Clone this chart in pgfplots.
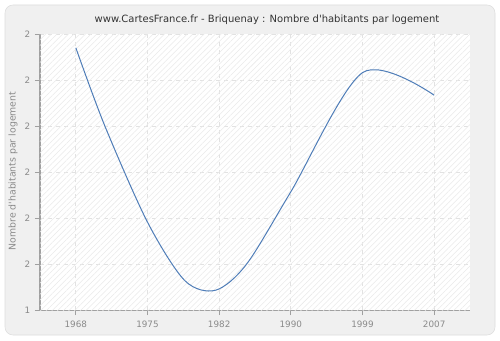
\documentclass[border=0pt]{standalone}
\usepackage{fontspec}
\setmainfont{DejaVu Sans}
\usepackage{pgfplots}
\pgfplotsset{compat=1.18}
\usetikzlibrary{patterns.meta}
\definecolor{linec}{HTML}{4F7DB8}
\definecolor{bgc}{HTML}{F0F0F0}
\definecolor{borderc}{HTML}{DDDDDD}
\definecolor{titlec}{HTML}{333333}
\definecolor{tickc}{HTML}{8A8A8A}
\definecolor{axisc}{HTML}{A0A0A0}
\definecolor{gridc}{HTML}{E2E2E2}
\definecolor{hatchc}{HTML}{EAEAEA}
\begin{document}
\begin{tikzpicture}[x=0.75pt,y=0.75pt]
\fill[white] (0,0) rectangle (500,340);
\draw[fill=bgc, draw=borderc, rounded corners=6pt] (5,5) rectangle (495,335);
\node[font=\fontsize{7.5}{9}\selectfont, text=titlec] at (267,320) {www.CartesFrance.fr - Briquenay : Nombre d\textquotesingle habitants par logement};
\node[font=\fontsize{7}{8}\selectfont, text=tickc, rotate=90] at (13,169) {Nombre d\textquotesingle habitants par logement};
\begin{axis}[
  at={(30pt,22.5pt)}, anchor=south west,
  width=322.5pt, height=207pt, scale only axis,
  xmin=-0.5, xmax=5.5, ymin=0, ymax=6,
  xtick={0,1,2,3,4,5},
  xticklabels={1968,1975,1982,1990,1999,2007},
  ytick={0,1,2,3,4,5,6},
  yticklabels={1,2,2,2,2,2,2},
  axis lines*=left,
  axis line style={draw=axisc, line width=0.75pt},
  tick align=outside,
  major tick length=3.75pt,
  tick style={draw=axisc, line width=0.6pt},
  ticklabel style={font=\fontsize{6.6}{8}\selectfont, text=tickc},
  /pgf/number format/assume math mode=true,
  xticklabel style={yshift=-1pt},
  grid=major,
  grid style={draw=gridc, line width=0.6pt, dash pattern=on 3pt off 3pt},
  axis background/.style={fill=white},
  clip=false,
]
\fill[pattern={Lines[angle=45,distance=3pt,line width=0.4pt]}, pattern color=hatchc] (axis cs:-0.5,0) rectangle (axis cs:5.5,6);
\addplot[draw=linec, line width=0.75pt, smooth, tension=0.5, mark=none] coordinates {
(0,5.70) (0.405,4.0) (1,1.91) (1.52,0.64) (1.95,0.43) (2.384,1.0)
(3,2.57) (4,5.16) (5,4.67)
};
\end{axis}
\end{tikzpicture}
\end{document}
